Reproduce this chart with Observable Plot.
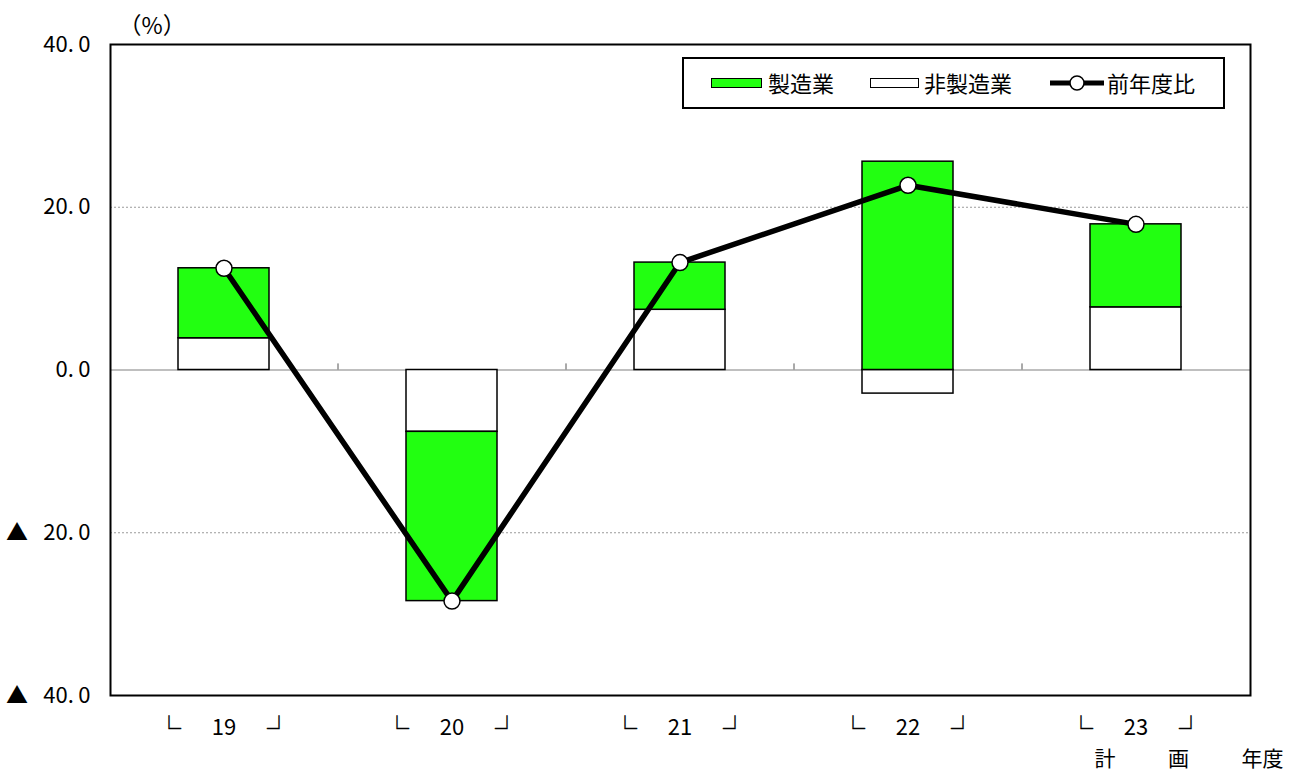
<!DOCTYPE html>
<html>
<head>
<meta charset="utf-8">
<script src="https://cdn.jsdelivr.net/npm/d3@7"></script>
<script src="https://cdn.jsdelivr.net/npm/@observablehq/plot@0.6"></script>
<style>
  body { margin: 0; background: #fff; }
  #wrap { position: relative; width: 1289px; height: 772px; font-family: "Noto Sans CJK JP", sans-serif; }
  #legend { position: absolute; left: 682px; top: 57px; width: 539px; height: 48px; border: 2px solid #000; background: #fff; font-size: 22px; }
  #legend .sw { position: absolute; top: 19px; height: 8px; border: 1.5px solid #000; }
  #legend .lb { position: absolute; top: 9px; line-height: 28px; white-space: nowrap; }
</style>
</head>
<body>
<div id="wrap">
  <div id="chart"></div>
  <div id="legend"></div>
</div>
<script>
const categories = ["19", "20", "21", "22", "23"];
const seriesNames = ["非製造業", "製造業"];
const nonManufacturing = [3.9, -7.6, 7.4, -2.9, 7.7];
const manufacturing = [8.6, -20.8, 5.8, 25.6, 10.2];
const yoyTotal = [12.5, -28.4, 13.2, 22.7, 17.9];
const lineName = "前年度比";
const yTicks = [-40, -20, 0, 20, 40];
const gridTicks = [20, -20];
const captionText = "計\u3000\u3000\u2002画\u3000\u3000\u2002年度";
const colors = ["#ffffff", "#22ff11"];

const barData = [];
categories.forEach((c, i) => {
  barData.push({ year: c, series: seriesNames[0], value: nonManufacturing[i] });
  barData.push({ year: c, series: seriesNames[1], value: manufacturing[i] });
});
const lineData = categories.map((c, i) => ({ year: c, value: yoyTotal[i] }));

const num = d => Math.abs(d).toFixed(1).replace(".", ".\u2009");
const fmt = d => d < 0 ? "▲\u2002\u2009" + num(d) : num(d);

const chart = Plot.plot({
  width: 1289,
  height: 772,
  marginLeft: 110,
  marginRight: 39,
  marginTop: 44,
  marginBottom: 77,
  style: { fontFamily: "'Noto Sans CJK JP', sans-serif", fontSize: "22px", background: "#fff", color: "#000", overflow: "visible" },
  x: { domain: categories, paddingInner: 0.6, paddingOuter: 0.3, label: null },
  y: { domain: [-40, 40], label: null },
  color: { domain: seriesNames, range: colors },
  marks: [
    Plot.ruleY(gridTicks, { stroke: "#9a9a9a", strokeDasharray: "2,2", strokeWidth: 1 }),
    Plot.ruleY([0], { stroke: "#808080", strokeWidth: 1.2 }),
    Plot.ruleX(categories.slice(0, -1), { x: d => d, y1: 0, y2: 0.75, dx: 114, stroke: "#555", strokeWidth: 1 }),
    Plot.barY(barData, { x: "year", y: "value", fill: "series", stroke: "#000", strokeWidth: 1.5 }),
    Plot.line(lineData, { x: "year", y: "value", stroke: "#000", strokeWidth: 5.5 }),
    Plot.dot(lineData, { x: "year", y: "value", r: 8, fill: "#fff", stroke: "#000", strokeWidth: 1.5 }),
    Plot.frame({ stroke: "#000", strokeWidth: 2 }),
    Plot.axisY({ ticks: yTicks, tickSize: 0, tickPadding: 20, tickFormat: fmt, fontSize: 22, fill: "#000" }),
    Plot.axisX({ tickSize: 0, tickPadding: 24, fontSize: 22, fill: "#000" }),
    Plot.text(categories, { x: d => d, frameAnchor: "bottom", text: () => "└", dx: -55, dy: 41, fontSize: 24, fill: "#000", stroke: "#000", strokeWidth: 0.4 }),
    Plot.text(categories, { x: d => d, frameAnchor: "bottom", text: () => "┘", dx: 55, dy: 41, fontSize: 24, fill: "#000", stroke: "#000", strokeWidth: 0.4 }),
    Plot.text([captionText], { frameAnchor: "bottom-right", text: d => d, textAnchor: "start", dx: -156, dy: 70, fontSize: 21, fill: "#000" }),
    Plot.text(["（%）"], { frameAnchor: "top-left", text: d => d, textAnchor: "start", dx: 8, dy: -27, fontSize: 23, fill: "#000" })
  ]
});
document.getElementById("chart").appendChild(chart);

// legend
const legend = document.getElementById("legend");
const items = [
  { type: "bar", color: colors[1], label: seriesNames[1], sw: 27, swW: 49, lb: 84 },
  { type: "bar", color: colors[0], label: seriesNames[0], sw: 186, swW: 47, lb: 240 },
  { type: "line", label: lineName, sw: 366, swW: 54, lb: 423 }
];
items.forEach(it => {
  if (it.type === "bar") {
    const s = document.createElement("div");
    s.className = "sw";
    s.style.left = it.sw + "px";
    s.style.width = it.swW + "px";
    s.style.background = it.color;
    legend.appendChild(s);
  } else {
    const ns = "http://www.w3.org/2000/svg";
    const svg = document.createElementNS(ns, "svg");
    svg.setAttribute("width", it.swW);
    svg.setAttribute("height", 20);
    svg.style.position = "absolute";
    svg.style.left = it.sw + "px";
    svg.style.top = "14px";
    const l = document.createElementNS(ns, "line");
    l.setAttribute("x1", 0); l.setAttribute("x2", it.swW);
    l.setAttribute("y1", 10); l.setAttribute("y2", 10);
    l.setAttribute("stroke", "#000"); l.setAttribute("stroke-width", 5);
    svg.appendChild(l);
    const c = document.createElementNS(ns, "circle");
    c.setAttribute("cx", it.swW / 2); c.setAttribute("cy", 10); c.setAttribute("r", 7);
    c.setAttribute("fill", "#fff"); c.setAttribute("stroke", "#000"); c.setAttribute("stroke-width", 1.5);
    svg.appendChild(c);
    legend.appendChild(svg);
  }
  const t = document.createElement("div");
  t.className = "lb";
  t.style.left = it.lb + "px";
  t.textContent = it.label;
  legend.appendChild(t);
});
</script>
</body>
</html>
